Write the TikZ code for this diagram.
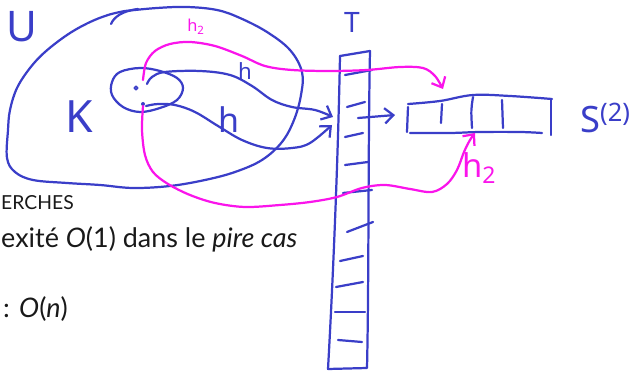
\documentclass[tikz,border=0pt]{standalone}
\usepackage{fontspec}
\setmainfont{Lato}
\newfontfamily\handfont{Noto Sans}
\usetikzlibrary{arrows.meta}
\definecolor{pen}{RGB}{58,62,200}
\definecolor{mag}{RGB}{250,20,235}
\begin{document}
\begin{tikzpicture}[x=0.03cm,y=-0.03cm,
  ink/.style={draw=pen,line width=1.9pt,line cap=round,line join=round},
  pink/.style={draw=mag,line width=1.9pt,line cap=round,line join=round},
  tipb/.style={-{Straight Barb[length=2.6mm,width=4.6mm,line width=1.9pt]}},
  lab/.style={text=pen,font=\handfont,inner sep=0pt},
  plab/.style={text=mag,font=\handfont,inner sep=0pt},
  body/.style={inner sep=0pt,anchor=base west,text=black!90,font=\fontsize{23}{27}\selectfont}]
\useasboundingbox (0,0) rectangle (633,371);
% typeset text
\node[body,font=\fontsize{16.5}{19}\selectfont] (t1) at (1,210) {ERCHES};
\node[body] (t2) at (1,248) {exité \textit{O}(1) dans le \textit{pire cas}};
\node[body] (t3) at (3,318) {: \textit{O}(\textit{n})};
% outer blob U
\draw[ink] plot[smooth,tension=0.6] coordinates {(125,11) (157,8) (187,7) (217,10) (240,18) (267,32) (290,50) (302,72) (301,95) (294,120) (282,142) (262,160) (235,172) (205,180) (170,186) (133,188) (100,185) (67,183) (33,180) (15,172) (7,158) (8,130) (10,110) (17,88) (30,68) (45,52) (67,35) (88,23) (108,15) (125,11)};
\draw[ink] (111,24) .. controls (114,17) and (122,11) .. (138,9);
% inner blob K
\draw[ink] plot[smooth cycle,tension=0.6] coordinates {(112,82) (120,72) (140,68) (160,71) (177,78) (183,88) (177,100) (160,108) (140,112) (123,107) (112,95)};
\coordinate (d1) at (136,88);
\coordinate (d2) at (143,104);
\draw[ink,line width=1.3pt] (d1) circle (1.8);
\fill[pen] (d2) circle (2);
% labels
\node[lab,font=\handfont\fontsize{36}{40}\selectfont] (U) at (22,27) {U};
\node[lab,font=\handfont\fontsize{38}{40}\selectfont] (K) at (79,117) {K};
\node[lab,font=\handfont\fontsize{19}{20}\selectfont] (hu) at (245,71) {h};
\node[lab,font=\handfont\fontsize{29}{30}\selectfont] (hl) at (229,120) {h};
\node[plab,font=\handfont\fontsize{14}{16}\selectfont] (h2t) at (196,27) {h\textsubscript{2}};
\node[plab,font=\handfont\fontsize{28}{30}\selectfont] (h2b) at (479,168) {h\textsubscript{2}};
\node[lab,font=\handfont\fontsize{24}{26}\selectfont] (T) at (352,22) {T};
\node[lab,font=\handfont\fontsize{31}{34}\selectfont,anchor=west] (S) at (580,118) {S\textsuperscript{(2)}};
% T column
\coordinate (ctl) at (340,56);
\coordinate (ctr) at (370,51);
\coordinate (cbl) at (328,369);
\coordinate (cbr) at (367,368);
\draw[ink] (ctl) -- (ctr);
\draw[ink] (ctl) .. controls (338,160) and (333,280) .. (cbl) -- (cbr) .. controls (369,280) and (368,150) .. (ctr);
\foreach \a/\b in {{(345,75)/(372,70)},{(347,107)/(365,102)},{(345,137)/(363,133)},{(345,165)/(368,162)},{(343,193)/(372,190)},{(347,232)/(373,222)},{(340,261)/(363,256)},{(336,287)/(363,282)},{(335,312)/(365,312)},{(338,340)/(362,342)}}
  \draw[ink] \a -- \b;
% S array
\coordinate (sa) at (408,104);
\coordinate (sb) at (552,99);
\draw[ink] plot[smooth,tension=0.6] coordinates {(sa) (440,101) (473,95) (510,96) (sb)};
\draw[ink] plot[smooth,tension=0.6] coordinates {(410,133) (450,133) (480,132) (520,132) (542,133)};
\draw[ink] (408,107) -- (407,132);
\draw[ink] (551,100) -- (551,135);
\draw[ink] (442,104) -- (441,123);
\draw[ink] (473,97) .. controls (471,110) .. (472,128);
\draw[ink] (502,100) -- (503,128);
% arrow T -> S
\coordinate (ta) at (358,118);
\coordinate (tb) at (395,115);
\draw[ink,tipb] (ta) -- (tb);
% h arrows
\coordinate (hu0) at (147,84);
\coordinate (hu1) at (333,117);
\draw[ink,tipb] plot[smooth,tension=0.6] coordinates {(hu0) (152,77) (165,72) (200,71) (230,75) (252,86) (272,100) (292,107) (315,110) (hu1)};
\coordinate (hl0) at (146,106);
\coordinate (hl1) at (332,125);
\draw[ink,tipb] plot[smooth,tension=0.6] coordinates {(hl0) (158,104) (175,105) (195,112) (218,126) (242,140) (267,148) (292,148) (310,143) (hl1)};
% magenta h2 arrows
\coordinate (m0) at (143,80);
\coordinate (m1) at (443,89);
\draw[pink,tipb] plot[smooth,tension=0.55] coordinates {(m0) (146,63) (155,51) (170,44) (190,42) (215,46) (242,56) (265,66) (292,70) (330,71) (367,70) (400,67) (423,68) (435,76) (m1)};
\coordinate (n0) at (143,106);
\coordinate (n1) at (475,133);
\draw[pink,tipb] plot[smooth,tension=0.55] coordinates {(n0) (142,130) (145,155) (153,172) (168,184) (190,195) (215,203) (245,207) (280,205) (310,202) (337,197) (362,188) (385,185) (410,189) (432,192) (447,184) (457,170) (464,152) (470,140) (n1)};
\end{tikzpicture}
\end{document}
